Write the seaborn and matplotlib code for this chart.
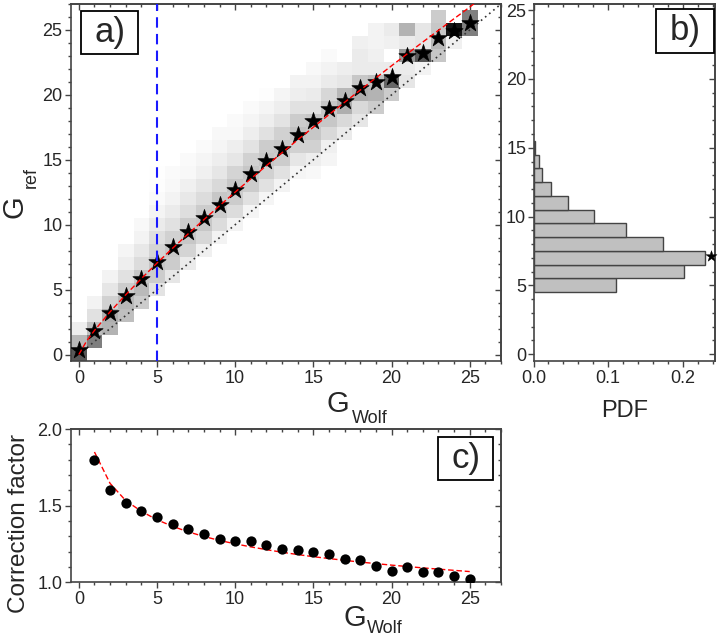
import numpy as np
import pandas as pd
import matplotlib
matplotlib.use('Agg')
import matplotlib.pyplot as plt
from matplotlib.ticker import MultipleLocator, FormatStrFormatter
from matplotlib.patches import Rectangle
import seaborn as sns

# ---------------- data ----------------
# a) conditional PDF of G_ref for every G_Wolf column (first row + values upward)
g_wolf_cols = list(range(26))
col_start = [0, 1, 2, 3, 4, 5, 6, 7, 8, 9, 10, 11, 12, 13, 14, 14, 15, 17, 18, 19, 20, 21, 22, 23, 24, 25]
col_pdf = [
    [0.65, 0.28, 0.07],
    [0.50, 0.25, 0.12, 0.05],
    [0.30, 0.32, 0.18, 0.10, 0.05],
    [0.25, 0.28, 0.20, 0.12, 0.07, 0.04],
    [0.20, 0.27, 0.22, 0.14, 0.09, 0.05, 0.03],
    [0.11, 0.20, 0.23, 0.17, 0.125, 0.08, 0.046, 0.023, 0.011, 0.007],
    [0.10, 0.20, 0.22, 0.18, 0.12, 0.08, 0.05, 0.03, 0.02],
    [0.08, 0.17, 0.22, 0.20, 0.13, 0.09, 0.06, 0.03, 0.02],
    [0.06, 0.16, 0.22, 0.20, 0.14, 0.10, 0.06, 0.04, 0.02],
    [0.05, 0.14, 0.20, 0.22, 0.15, 0.10, 0.07, 0.04, 0.03],
    [0.05, 0.14, 0.20, 0.22, 0.17, 0.10, 0.07, 0.03, 0.02],
    [0.04, 0.12, 0.20, 0.22, 0.18, 0.11, 0.07, 0.04, 0.02],
    [0.04, 0.12, 0.18, 0.22, 0.20, 0.12, 0.07, 0.04, 0.01],
    [0.05, 0.12, 0.20, 0.22, 0.18, 0.11, 0.07, 0.04],
    [0.04, 0.10, 0.18, 0.24, 0.20, 0.12, 0.07, 0.05],
    [0.03, 0.07, 0.18, 0.22, 0.22, 0.12, 0.08, 0.05, 0.03],
    [0.04, 0.06, 0.15, 0.22, 0.22, 0.16, 0.08, 0.05, 0.02],
    [0.08, 0.15, 0.32, 0.28, 0.10, 0.07],
    [0.10, 0.15, 0.32, 0.22, 0.08, 0.08, 0.06],
    [0.20, 0.30, 0.25, 0.08, 0.06, 0.05, 0.05],
    [0.20, 0.60, 0.08, 0.00, 0.06, 0.08],
    [0.10, 0.08, 0.40, 0.08, 0.30],
    [0.05, 0.65, 0.10, 0.10],
    [0.22, 0.28, 0.22, 0.20],
    [0.06, 0.92],
    [0.50, 0.50],
]

# a) mean G_ref (stars)
g_ref_mean = [0.35, 1.8, 3.2, 4.5, 5.8, 7.1, 8.3, 9.4, 10.5, 11.5, 12.7, 13.9, 14.9,
              15.8, 16.9, 18.0, 18.9, 19.5, 20.5, 21.0, 21.4, 23.0, 23.2, 24.4, 24.9, 25.55]

# a) fitted curve (red dashed)
fit_a_x = [0, 0.5, 1, 2, 3, 4, 5, 6, 7, 8, 9, 10, 11, 12, 13, 14, 15, 16, 17, 18,
           19, 20, 21, 22, 23, 24, 25, 25.3]
fit_a_y = [0.0, 1.04, 1.85, 3.29, 4.60, 5.85, 7.04, 8.19, 9.30, 10.39, 11.46, 12.51,
           13.54, 14.55, 15.55, 16.54, 17.51, 18.48, 19.43, 20.37, 21.31, 22.24,
           23.16, 24.07, 24.97, 25.87, 26.76, 27.05]

# b) PDF of G_ref at G_Wolf = 5
pdf_bins = [5, 6, 7, 8, 9, 10, 11, 12, 13, 14, 15]
pdf_vals = [0.111, 0.201, 0.229, 0.173, 0.1245, 0.0805, 0.0464, 0.0232, 0.0109, 0.0068, 0.0014]
pdf_star = (0.238, 7.1)

# c) correction factor
corr_x = list(range(1, 26))
corr_vals = [1.80, 1.60, 1.515, 1.467, 1.426, 1.378, 1.348, 1.313, 1.283, 1.270, 1.267,
             1.243, 1.217, 1.213, 1.198, 1.187, 1.152, 1.148, 1.107, 1.072, 1.102,
             1.065, 1.067, 1.041, 1.024]
corr_fit = [1.85, 1.645, 1.533, 1.463, 1.408, 1.365, 1.329, 1.299, 1.273, 1.251, 1.231,
            1.213, 1.196, 1.181, 1.167, 1.155, 1.143, 1.132, 1.122, 1.112, 1.103,
            1.094, 1.086, 1.078, 1.070]

# ---------------- style ----------------
sns.set_style('ticks')
plt.rcParams['font.family'] = ['Liberation Sans', 'DejaVu Sans']
SPINE = '#444444'

W, H = 720, 638
fig = plt.figure(figsize=(W / 100, H / 100), dpi=100)


def px_axes(left, top, right, bottom):
    return fig.add_axes([left / W, 1 - bottom / H, (right - left) / W, (bottom - top) / H])


ax_a = px_axes(71, 4, 501, 361)
ax_b = px_axes(533.5, 4, 715, 361)
ax_c = px_axes(71, 429, 501, 582.3)


def style_axes(ax, xmaj, xmin, ymaj, ymin):
    for s in ax.spines.values():
        s.set_color(SPINE)
        s.set_linewidth(1.2)
    ax.xaxis.set_major_locator(MultipleLocator(xmaj))
    ax.xaxis.set_minor_locator(MultipleLocator(xmin))
    ax.yaxis.set_major_locator(MultipleLocator(ymaj))
    ax.yaxis.set_minor_locator(MultipleLocator(ymin))
    ax.tick_params(which='both', direction='out', color=SPINE, width=1,
                   labelsize=13, pad=2)
    ax.tick_params(which='major', length=4.3)
    ax.tick_params(which='minor', length=2.4)
    top = ax.secondary_xaxis('top')
    top.xaxis.set_major_locator(MultipleLocator(xmaj))
    top.xaxis.set_minor_locator(MultipleLocator(xmin))
    top.tick_params(which='both', direction='in', labeltop=False, color=SPINE, width=1)
    top.tick_params(which='major', length=4.3)
    top.tick_params(which='minor', length=2.4)
    top.spines['top'].set_color(SPINE)
    top.spines['top'].set_linewidth(1.2)
    right = ax.secondary_yaxis('right')
    right.yaxis.set_major_locator(MultipleLocator(ymaj))
    right.yaxis.set_minor_locator(MultipleLocator(ymin))
    right.tick_params(which='both', direction='in', labelright=False, color=SPINE, width=1)
    right.tick_params(which='major', length=4.3)
    right.tick_params(which='minor', length=2.4)
    right.spines['right'].set_color(SPINE)
    right.spines['right'].set_linewidth(1.2)


def tag(ax, text, x0, y0, w, h):
    ax.add_patch(Rectangle((x0, y0), w, h, transform=ax.transAxes, facecolor='white',
                           edgecolor='black', linewidth=1.3, zorder=10, clip_on=False))
    ax.text(x0 + w / 2, y0 + h / 2, text, transform=ax.transAxes, fontsize=25,
            ha='center', va='center', zorder=11)


# ---------------- panel a ----------------
heat_rows = []
for k, j0, vals in zip(g_wolf_cols, col_start, col_pdf):
    for i, v in enumerate(vals):
        heat_rows.append({'g_wolf': k, 'g_ref': j0 + i, 'pdf': v})
heat_df = pd.DataFrame(heat_rows)

sns.histplot(data=heat_df, x='g_wolf', y='g_ref', weights='pdf', discrete=True,
             cmap='gray_r', vmin=0, vmax=1, ax=ax_a, zorder=1)
ax_a.plot([0, 27], [0, 27], color='#333333', linestyle=(0, (1, 2.2)), linewidth=1.2, zorder=3)
sns.scatterplot(x=g_wolf_cols, y=g_ref_mean, marker='*', s=170, color='black',
                edgecolor='black', linewidth=0.5, ax=ax_a, zorder=5)
sns.lineplot(x=fit_a_x, y=fit_a_y, color='red', linestyle=(0, (4, 2)), linewidth=1,
             ax=ax_a, zorder=6)
ax_a.axvline(5, color='#1a1aff', linestyle=(0, (5, 3)), linewidth=1.5, zorder=7)
ax_a.set_xlim(-0.5, 27)
ax_a.set_ylim(-0.5, 27)
ax_a.set_xlabel('')
ax_a.set_ylabel('')
style_axes(ax_a, 5, 1, 5, 1)
tag(ax_a, 'a)', 0.0233, 0.859, 0.1325, 0.1222)

# ---------------- panel b ----------------
sns.histplot(y=pdf_bins, weights=pdf_vals, discrete=True, color='#c0c0c0',
             edgecolor='#444444', linewidth=1, alpha=1, ax=ax_b)
sns.scatterplot(x=[pdf_star[0]], y=[pdf_star[1]], marker='*', s=70, color='black',
                edgecolor='black', linewidth=0.3, ax=ax_b, zorder=5, clip_on=False)
ax_b.set_xlim(0, 0.243)
ax_b.set_ylim(-0.5, 25.45)
ax_b.set_xlabel('')
ax_b.set_ylabel('')
style_axes(ax_b, 0.1, 0.02, 5, 1)
ax_b.xaxis.set_major_formatter(FormatStrFormatter('%.1f'))
ax_b.tick_params(axis='y', pad=1)
tag(ax_b, 'b)', 0.675, 0.863, 0.32, 0.123)

# ---------------- panel c ----------------
sns.lineplot(x=corr_x, y=corr_fit, color='red', linestyle=(0, (4, 2)), linewidth=1,
             ax=ax_c, zorder=3)
sns.scatterplot(x=corr_x, y=corr_vals, marker='o', s=55, color='black',
                edgecolor='black', linewidth=0, ax=ax_c, zorder=5)
ax_c.set_xlim(-0.5, 27)
ax_c.set_ylim(1.0, 2.0)
ax_c.set_xlabel('')
ax_c.set_ylabel('')
style_axes(ax_c, 5, 1, 0.5, 0.1)
ax_c.yaxis.set_major_formatter(FormatStrFormatter('%.1f'))
tag(ax_c, 'c)', 0.8535, 0.667, 0.128, 0.281)

# ---------------- axis labels (G with subscripts) ----------------
def fx(x):
    return x / W


def fy(y):
    return 1 - y / H


fig.text(fx(326.5), fy(411.7), 'G', fontsize=21, ha='left', va='baseline')
fig.text(fx(352), fy(423), 'Wolf', fontsize=13, ha='left', va='baseline')
fig.text(fx(23), fy(218.5), 'G', fontsize=21, rotation=90, rotation_mode='anchor',
         ha='left', va='baseline')
fig.text(fx(36), fy(188), 'ref', fontsize=13, rotation=90, rotation_mode='anchor',
         ha='left', va='baseline')
fig.text(fx(625), fy(416.7), 'PDF', fontsize=17, ha='center', va='baseline')
fig.text(fx(25), fy(613), 'Correction factor', fontsize=17.5, rotation=90,
         rotation_mode='anchor', ha='left', va='baseline')
fig.text(fx(343.5), fy(626), 'G', fontsize=21, ha='left', va='baseline')
fig.text(fx(367), fy(633), 'Wolf', fontsize=13, ha='left', va='baseline')

fig.savefig('out.png', dpi=100, facecolor='white')
